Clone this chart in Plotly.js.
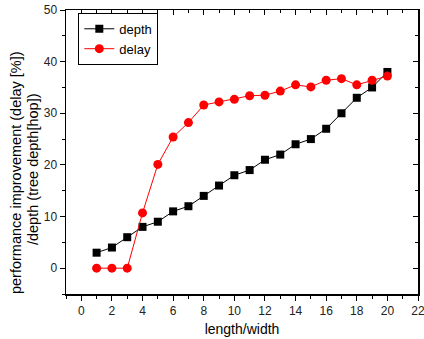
<!DOCTYPE html>
<html>
<head>
<script src="https://cdn.plot.ly/plotly-3.0.1.min.js"></script>
<style>html,body{margin:0;padding:0;background:#fff;}#chart{width:424px;height:339px;}</style>
</head>
<body>
<div id="chart"></div>
<script>
const xValues = [1,2,3,4,5,6,7,8,9,10,11,12,13,14,15,16,17,18,19,20];
const depthValues = [3,4,6,8,9,11,12,14,16,18,19,21,22,24,25,27,30,33,35,38];
const delayValues = [0,0,0,10.7,20.1,25.4,28.2,31.6,32.2,32.7,33.4,33.5,34.3,35.5,35.1,36.4,36.7,35.5,36.4,37.2];
const seriesNames = ['depth','delay'];
const yTitleLines = ['performance improvement (delay [%])', '/depth (tree depth[hop])'];
const xTitle = 'length/width';

const xRange = [-1, 22];
const yRange = [-5, 50];

const traces = [
  {x: xValues, y: depthValues, name: seriesNames[0], type: 'scatter', mode: 'lines+markers',
   line: {color: '#000000', width: 1}, marker: {symbol: 'square', size: 8, color: '#000000'}},
  {x: xValues, y: delayValues, name: seriesNames[1], type: 'scatter', mode: 'lines+markers',
   line: {color: '#ff0000', width: 1}, marker: {symbol: 'circle', size: 9, color: '#ff0000'}},
  {x: [null], y: [null], xaxis: 'x2', yaxis: 'y2', showlegend: false, hoverinfo: 'skip'}
];

const fontFam = 'Liberation Sans, Arial, sans-serif';
const layout = {
  width: 424, height: 339,
  margin: {l: 66, r: 6, t: 10, b: 45},
  paper_bgcolor: '#fff', plot_bgcolor: '#fff',
  font: {family: fontFam, size: 12, color: '#000'},
  showlegend: true,
  legend: {x: 0.035, y: 0.99, xanchor: 'left', yanchor: 'top', bordercolor: '#000', borderwidth: 1,
           bgcolor: '#fff', font: {size: 13, family: fontFam}, tracegroupgap: 0, itemwidth: 30},
  annotations: [
    {text: yTitleLines[0], xref: 'paper', yref: 'paper', x: 0, y: 0.426, xanchor: 'center', yanchor: 'middle',
     xshift: -50, textangle: -90, showarrow: false, font: {size: 14.5, family: fontFam, color: '#000'}},
    {text: yTitleLines[1], xref: 'paper', yref: 'paper', x: 0, y: 0.44, xanchor: 'center', yanchor: 'middle',
     xshift: -33, textangle: -90, showarrow: false, font: {size: 14.5, family: fontFam, color: '#000'}}
  ],
  xaxis: {range: xRange, dtick: 2, tick0: 0, ticks: 'outside', ticklen: 5, tickwidth: 1, tickcolor: '#000',
          showline: true, linecolor: '#000', linewidth: 1.5, showgrid: false, zeroline: false,
          tickfont: {size: 12, color: '#222'}, ticklabeloverflow: 'allow',
          minor: {dtick: 1, tick0: 0, ticks: 'outside', ticklen: 3, tickcolor: '#000', showgrid: false},
          title: {text: xTitle, font: {size: 14}, standoff: 7}},
  yaxis: {range: yRange, dtick: 10, tick0: 0, ticks: 'outside', ticklen: 5, tickwidth: 1, tickcolor: '#000',
          showline: true, linecolor: '#000', linewidth: 1.5, showgrid: false, zeroline: false,
          tickfont: {size: 12, color: '#222'},
          minor: {dtick: 5, tick0: 0, ticks: 'outside', ticklen: 3, tickcolor: '#000', showgrid: false}},
  xaxis2: {range: xRange, overlaying: 'x', side: 'top', dtick: 2, tick0: 0, ticks: 'inside', ticklen: 5, tickcolor: '#000',
           showline: true, linecolor: '#000', linewidth: 1.5, showgrid: false, zeroline: false, showticklabels: false,
           minor: {dtick: 1, tick0: 0, ticks: 'inside', ticklen: 3, tickcolor: '#000', showgrid: false}},
  yaxis2: {range: yRange, overlaying: 'y', side: 'right', dtick: 10, tick0: 0, ticks: 'inside', ticklen: 5, tickcolor: '#000',
           showline: true, linecolor: '#000', linewidth: 1.5, showgrid: false, zeroline: false, showticklabels: false,
           minor: {dtick: 5, tick0: 0, ticks: 'inside', ticklen: 3, tickcolor: '#000', showgrid: false}}
};

Plotly.newPlot('chart', traces, layout, {displayModeBar: false, staticPlot: true});
</script>
</body>
</html>
